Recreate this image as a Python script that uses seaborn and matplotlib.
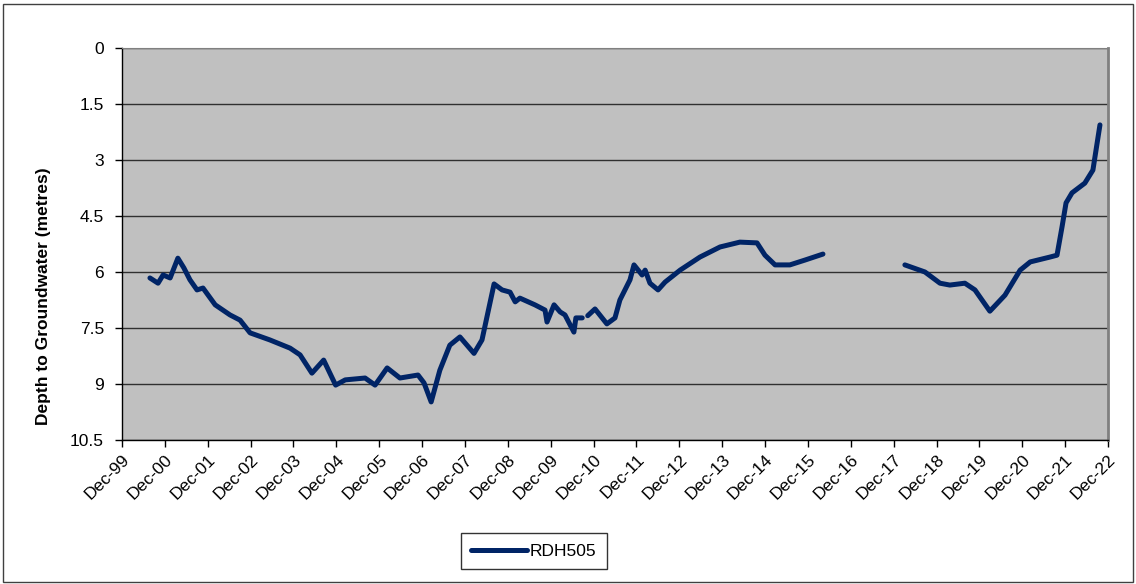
import matplotlib
matplotlib.use("Agg")
import matplotlib.pyplot as plt
import matplotlib.dates as mdates
from matplotlib.lines import Line2D
from matplotlib.patches import Rectangle
from matplotlib.ticker import FuncFormatter
import seaborn as sns
import pandas as pd

# Monitoring bore RDH505 - depth to groundwater (m)
seg1_dates = ["2000-07-26", "2000-10-03", "2000-11-15", "2001-01-14", "2001-03-21", "2001-05-11",
              "2001-07-02", "2001-08-31", "2001-10-21", "2002-02-02", "2002-06-08", "2002-09-02",
              "2002-11-26", "2003-05-14", "2003-11-02", "2004-01-26", "2004-05-06", "2004-08-14",
              "2004-11-24", "2005-02-14", "2005-08-02", "2005-10-26", "2006-02-06", "2006-05-26",
              "2006-10-27", "2006-12-17", "2007-02-16", "2007-05-01", "2007-07-25", "2007-10-19",
              "2007-12-18", "2008-02-16", "2008-04-24", "2008-08-05", "2008-10-12", "2008-12-19",
              "2009-02-01", "2009-03-13", "2009-07-19", "2009-10-13", "2009-10-30", "2009-12-29",
              "2010-02-19", "2010-04-01", "2010-06-16", "2010-07-03", "2010-08-26"]
seg1_depth = [6.16, 6.30, 6.08, 6.16, 5.63, 5.89,
              6.21, 6.48, 6.43, 6.88, 7.15, 7.29,
              7.63, 7.82, 8.04, 8.22, 8.71, 8.36,
              9.03, 8.89, 8.84, 9.03, 8.57, 8.84,
              8.76, 8.97, 9.48, 8.63, 7.96, 7.74,
              7.96, 8.18, 7.82, 6.32, 6.48, 6.54,
              6.80, 6.70, 6.88, 7.02, 7.34, 6.88,
              7.07, 7.15, 7.61, 7.23, 7.23]

seg2_dates = ["2010-10-12", "2010-12-13", "2011-03-24", "2011-06-01", "2011-07-13", "2011-10-07",
              "2011-11-10", "2012-01-18", "2012-02-13", "2012-03-25", "2012-06-02", "2012-08-01",
              "2012-12-07", "2013-05-25", "2013-11-12", "2014-04-30", "2014-09-23", "2014-11-30",
              "2015-02-24", "2015-06-30", "2015-11-06", "2016-04-07"]
seg2_depth = [7.17, 6.99, 7.39, 7.23, 6.75, 6.21,
              5.81, 6.08, 5.95, 6.30, 6.48, 6.27,
              5.95, 5.60, 5.33, 5.20, 5.22, 5.55,
              5.81, 5.81, 5.68, 5.52]

seg3_dates = ["2018-03-06", "2018-08-24", "2018-12-30", "2019-03-24", "2019-07-30", "2019-10-24",
              "2020-02-28", "2020-07-06", "2020-11-12", "2021-02-06", "2021-07-24", "2021-09-22",
              "2021-11-04", "2021-12-08", "2022-01-28", "2022-05-17", "2022-07-25", "2022-09-23"]
seg3_depth = [5.81, 6.00, 6.30, 6.35, 6.30, 6.48,
              7.05, 6.62, 5.95, 5.73, 5.60, 5.55,
              4.79, 4.15, 3.88, 3.62, 3.27, 2.06]

series_name = "RDH505"
y_ticks = [0, 1.5, 3, 4.5, 6, 7.5, 9, 10.5]

df = pd.concat([
    pd.DataFrame({"date": pd.to_datetime(d), "depth": v, "seg": i})
    for i, (d, v) in enumerate([(seg1_dates, seg1_depth), (seg2_dates, seg2_depth), (seg3_dates, seg3_depth)])
])

plt.rcParams["font.family"] = ["Liberation Sans", "DejaVu Sans"]
line_color = "#002466"

fig = plt.figure(figsize=(11.36, 5.84), dpi=100)
ax = fig.add_axes([0.1074, 0.2466, 0.868, 0.6712])
ax.set_facecolor("#c0c0c0")

sns.lineplot(data=df, x="date", y="depth", units="seg", estimator=None, color=line_color,
             linewidth=3.6, ax=ax, solid_capstyle="round", solid_joinstyle="round", zorder=3)

ax.set_xlim(pd.Timestamp("1999-12-01"), pd.Timestamp("2022-12-01"))
ax.xaxis.set_major_locator(mdates.MonthLocator(bymonth=12, bymonthday=1))
ax.xaxis.set_major_formatter(mdates.DateFormatter("%b-%y"))
plt.setp(ax.get_xticklabels(), rotation=45, ha="right", rotation_mode="anchor")

ax.set_ylim(10.5, 0)
ax.set_yticks(y_ticks)
ax.yaxis.set_major_formatter(FuncFormatter(lambda v, p: "%g" % v))
ax.yaxis.grid(True, color="#303030", linewidth=1)
ax.xaxis.grid(False)
ax.set_axisbelow(True)

ax.tick_params(axis="both", direction="out", length=5, width=1, labelsize=12.5, color="black")
ax.tick_params(axis="y", pad=8)
ax.set_xlabel("")
ax.set_ylabel("Depth to Groundwater (metres)", fontsize=12.5, fontweight="bold")
ax.yaxis.set_label_coords(-0.072, 0.367)

for s in ["left", "bottom"]:
    ax.spines[s].set_color("black")
    ax.spines[s].set_linewidth(1)
ax.spines["top"].set_color("#808080")
ax.spines["right"].set_color("#808080")
ax.spines["right"].set_linewidth(2)

handle = Line2D([], [], color=line_color, linewidth=3.6, solid_capstyle="round")
leg = fig.legend([handle], [series_name], loc="center", bbox_to_anchor=(0.470, 0.0565),
                 frameon=True, fancybox=False, fontsize=12.5, handlelength=3.2,
                 borderpad=0.6, handletextpad=0.2, borderaxespad=0)
leg.get_frame().set_edgecolor("black")
leg.get_frame().set_linewidth(1)

fig.patches.append(Rectangle((0.003, 0.004), 0.994, 0.99, transform=fig.transFigure,
                             fill=False, edgecolor="#404040", linewidth=1))

fig.savefig("out.png", dpi=100)
